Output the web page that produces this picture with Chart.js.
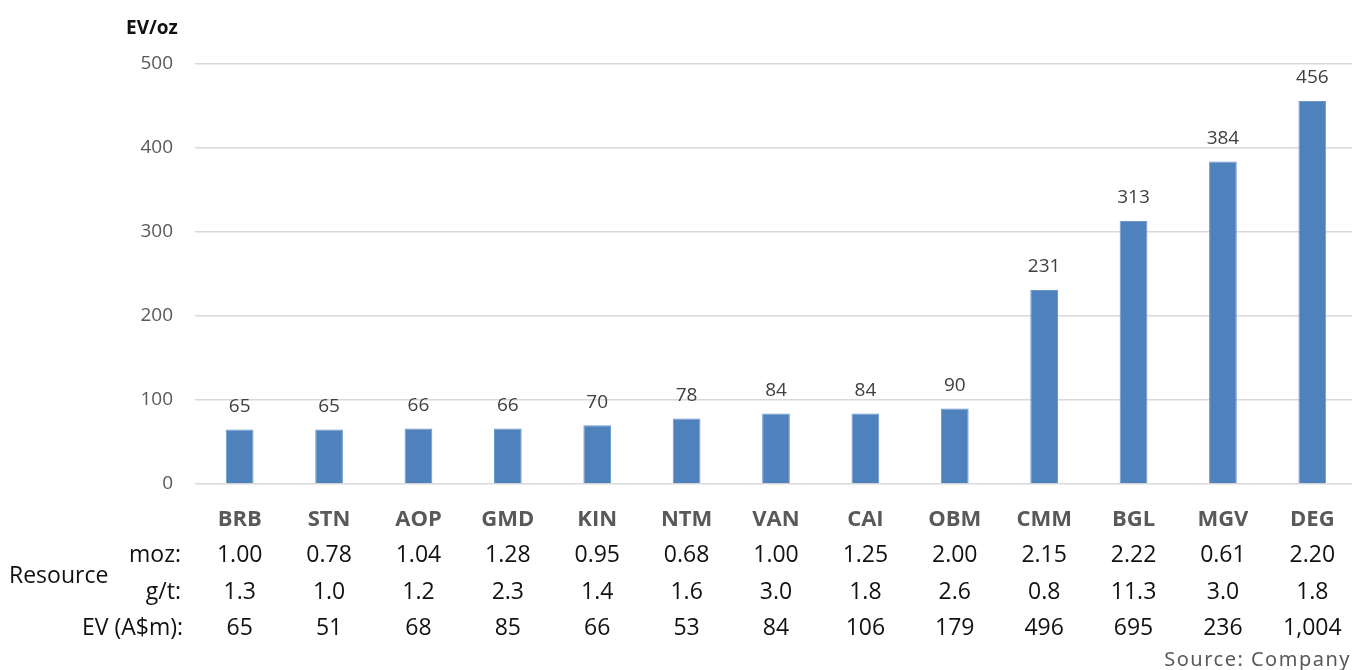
<!DOCTYPE html>
<html>
<head>
<meta charset="utf-8">
<script src="https://cdn.jsdelivr.net/npm/chart.js@4"></script>
<style>
  html, body { margin: 0; padding: 0; background: #fff; overflow: hidden; }
  #wrap { position: absolute; left: 0; top: 0; width: 1362px; height: 670px; }
</style>
</head>
<body>
<div id="wrap"><canvas id="c" width="1362" height="670"></canvas></div>
<script>
const categories = ['BRB','STN','AOP','GMD','KIN','NTM','VAN','CAI','OBM','CMM','BGL','MGV','DEG'];
const evPerOz   = [65, 65, 66, 66, 70, 78, 84, 84, 90, 231, 313, 384, 456];
const resourceMoz = [1.00, 0.78, 1.04, 1.28, 0.95, 0.68, 1.00, 1.25, 2.00, 2.15, 2.22, 0.61, 2.20];
const gradeGt     = [1.3, 1.0, 1.2, 2.3, 1.4, 1.6, 3.0, 1.8, 2.6, 0.8, 11.3, 3.0, 1.8];
const evAudM      = [65, 51, 68, 85, 66, 53, 84, 106, 179, 496, 695, 236, 1004];
const yTicks = [0, 100, 200, 300, 400, 500];

const FONT = '"Open Sans", "Noto Sans", sans-serif';

const tablePlugin = {
  id: 'tablePlugin',
  afterDraw(chart) {
    const ctx = chart.ctx;
    const x = chart.scales.x, y = chart.scales.y;
    ctx.save();
    // data labels
    ctx.font = '19px ' + FONT;
    ctx.fillStyle = '#404040';
    ctx.textAlign = 'center';
    ctx.textBaseline = 'middle';
    evPerOz.forEach((v, i) => {
      ctx.fillText(String(v), x.getPixelForValue(i), y.getPixelForValue(v) - 23);
    });
    // category labels
    ctx.font = 'bold 22px ' + FONT;
    ctx.fillStyle = '#595959';
    categories.forEach((c, i) => ctx.fillText(c, x.getPixelForValue(i), 520));
    // table rows
    ctx.font = '23px ' + FONT;
    ctx.fillStyle = '#111';
    categories.forEach((c, i) => {
      const cx = x.getPixelForValue(i);
      ctx.fillText(resourceMoz[i].toFixed(2), cx, 555);
      ctx.fillText(gradeGt[i].toFixed(1), cx, 592);
      ctx.fillText(evAudM[i].toLocaleString('en-US'), cx, 628);
    });
    // row labels
    ctx.textAlign = 'right';
    ctx.fillText('moz:', 181, 555);
    ctx.fillText('g/t:', 181, 592);
    ctx.fillText('EV (A$m):', 183, 628);
    ctx.textAlign = 'left';
    ctx.fillText('Resource', 9, 576);
    // axis title
    ctx.font = 'bold 19px ' + FONT;
    ctx.fillStyle = '#111';
    ctx.textAlign = 'left';
    ctx.fillText('EV/oz', 126, 29);
    // source
    ctx.font = '20px "Noto Sans", sans-serif';
    ctx.fillStyle = '#595959';
    ctx.textAlign = 'right';
    try { ctx.letterSpacing = '1.5px'; } catch (e) {}
    ctx.fillText('Source: Company', 1351, 660);
    ctx.restore();
  }
};

new Chart(document.getElementById('c'), {
  type: 'bar',
  data: {
    labels: categories,
    datasets: [{
      data: evPerOz,
      backgroundColor: '#4F81BD',
      borderColor: '#6C98CD',
      borderWidth: 1,
      barPercentage: 0.31,
      categoryPercentage: 1.0
    }]
  },
  options: {
    responsive: false,
    animation: false,
    devicePixelRatio: 1,
    layout: { padding: { top: 64, right: 5, left: 0, bottom: 0 } },
    plugins: { legend: { display: false }, tooltip: { enabled: false } },
    scales: {
      x: {
        ticks: { display: false },
        grid: { display: false },
        border: { display: false },
        afterFit(scale) { scale.height = 186; }
      },
      y: {
        min: 0, max: 500,
        afterBuildTicks(scale) { scale.ticks = yTicks.map(v => ({ value: v })); },
        ticks: { color: '#595959', font: { size: 19, family: FONT }, padding: 22 },
        grid: { color: '#d9d9d9', lineWidth: 1.5, drawTicks: false },
        border: { display: false },
        afterFit(scale) { scale.width = 195; }
      }
    }
  },
  plugins: [tablePlugin]
});
</script>
</body>
</html>
